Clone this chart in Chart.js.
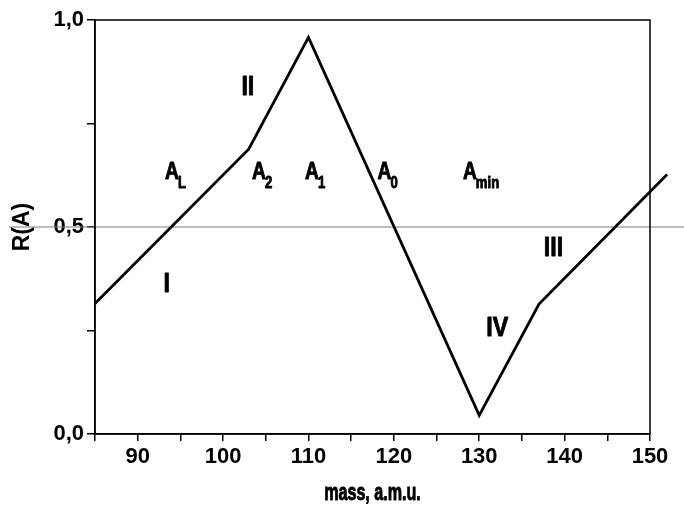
<!DOCTYPE html>
<html>
<head>
<meta charset="utf-8">
<script src="https://cdn.jsdelivr.net/npm/chart.js@4/dist/chart.umd.min.js"></script>
<style>
html, body { margin: 0; padding: 0; background: #fff; }
#wrap { width: 684px; height: 511px; }
</style>
</head>
<body>
<div id="wrap"><canvas id="lineChart"></canvas></div>
<script>
// curve R(A) vs mass
var masses = [85, 103, 110, 130, 137, 152];
var ratios = [0.315, 0.688, 0.958, 0.045, 0.314, 0.627];

// axis ticks that get a label
var xLabels = [90, 100, 110, 120, 130, 140, 150];
var yLabels = [0, 0.5, 1];
var refLevel = 0.5;
var xTitle = 'mass, a.m.u.';

// region numerals, placed in data units (centre)
var regionNames = ['I', 'II', 'III', 'IV'];
var regionMass = [93.4, 102.9, 138.7, 132.1];
var regionR = [0.36, 0.836, 0.449, 0.254];

// A labels (left edge of the letter, baseline)
var pointSubs = ['L', '2', '1', '0', 'min'];
var pointMass = [93.2, 103.4, 109.6, 118.1, 128.1];
var pointR = [0.616, 0.616, 0.616, 0.616, 0.616];

var FONT = "'Liberation Sans', Arial, sans-serif";

// the original lettering is squeezed sideways, so squeeze it by hand
// (a thin stroke keeps it as heavy as the original)
function narrowText(ctx, text, x, y, sx) {
    ctx.save();
    ctx.translate(x, y);
    ctx.scale(sx, 1);
    ctx.fillText(text, 0, 0);
    ctx.strokeText(text, 0, 0);
    ctx.restore();
    return ctx.measureText(text).width * sx;
}

var extras = {
    id: 'extras',
    beforeDatasetsDraw: function (chart) {
        var ctx = chart.ctx, a = chart.chartArea;
        var y = chart.scales.y.getPixelForValue(refLevel);
        ctx.save();
        ctx.strokeStyle = '#7a7a7a';
        ctx.lineWidth = 1;
        ctx.beginPath();
        ctx.moveTo(9, y);
        ctx.lineTo(chart.width, y);
        ctx.stroke();
        ctx.strokeStyle = '#000';
        ctx.lineWidth = 1.5;
        ctx.strokeRect(a.left, a.top, a.right - a.left, a.bottom - a.top);
        ctx.restore();
    },
    afterDatasetsDraw: function (chart) {
        var ctx = chart.ctx, xs = chart.scales.x, ys = chart.scales.y, a = chart.chartArea;
        ctx.save();
        ctx.fillStyle = '#000';
        ctx.strokeStyle = '#000';
        ctx.lineWidth = 0.9;
        ctx.lineJoin = 'round';
        ctx.textBaseline = 'middle';
        ctx.textAlign = 'center';
        ctx.font = 'bold 27px ' + FONT;
        regionNames.forEach(function (t, i) {
            narrowText(ctx, t, xs.getPixelForValue(regionMass[i]), ys.getPixelForValue(regionR[i]), 0.86);
        });

        ctx.textBaseline = 'alphabetic';
        ctx.textAlign = 'left';
        pointSubs.forEach(function (s, i) {
            var px = xs.getPixelForValue(pointMass[i]);
            var py = ys.getPixelForValue(pointR[i]);
            ctx.font = 'bold 24px ' + FONT;
            var w = narrowText(ctx, 'A', px, py, 0.8);
            ctx.font = 'bold 16px ' + FONT;
            narrowText(ctx, s, px + w - 1, py + 9, 0.82);
        });

        ctx.textAlign = 'center';
        ctx.font = 'bold 23px ' + FONT;
        narrowText(ctx, xTitle, (a.left + a.right) / 2, 500, 0.7);
        ctx.restore();
    }
};

var ctx = document.getElementById('lineChart').getContext('2d');

new Chart(ctx, {
    type: 'line',
    data: {
        datasets: [{
            data: masses.map(function (m, i) { return { x: m, y: ratios[i] }; }),
            borderColor: '#000',
            borderWidth: 2.8,
            pointRadius: 0,
            tension: 0,
            clip: false
        }]
    },
    options: {
        responsive: true,
        maintainAspectRatio: false,
        animation: false,
        layout: { padding: { left: 0, top: 20, right: 34, bottom: 0 } },
        plugins: { legend: { display: false }, tooltip: { enabled: false } },
        scales: {
            x: {
                type: 'linear',
                min: 85,
                max: 150,
                afterFit: function (s) { s.height = 77; },
                ticks: {
                    stepSize: 5,
                    autoSkip: false,
                    maxRotation: 0,
                    padding: 3,
                    color: '#000',
                    font: { family: FONT, size: 22, weight: 'bold' },
                    callback: function (v) { return xLabels.indexOf(v) >= 0 ? String(v) : ''; }
                },
                grid: { drawOnChartArea: false, drawTicks: true, tickLength: 7, color: '#000', lineWidth: 1.5 },
                border: { display: true, color: '#000', width: 1.5 }
            },
            y: {
                min: 0,
                max: 1,
                afterFit: function (s) { s.width = 95; },
                ticks: {
                    stepSize: 0.25,
                    autoSkip: false,
                    padding: 3,
                    color: '#000',
                    font: { family: FONT, size: 22, weight: 'bold' },
                    callback: function (v) {
                        return yLabels.indexOf(v) >= 0 ? v.toFixed(1).replace('.', ',') : '';
                    }
                },
                grid: { drawOnChartArea: false, drawTicks: true, tickLength: 8, color: '#000', lineWidth: 1.5 },
                border: { display: true, color: '#000', width: 1.5 },
                title: {
                    display: true,
                    text: 'R(A)',
                    color: '#000',
                    padding: { top: 9, bottom: 0 },
                    font: { family: FONT, size: 23, weight: 'bold' }
                }
            }
        }
    },
    plugins: [extras]
});
</script>
</body>
</html>
